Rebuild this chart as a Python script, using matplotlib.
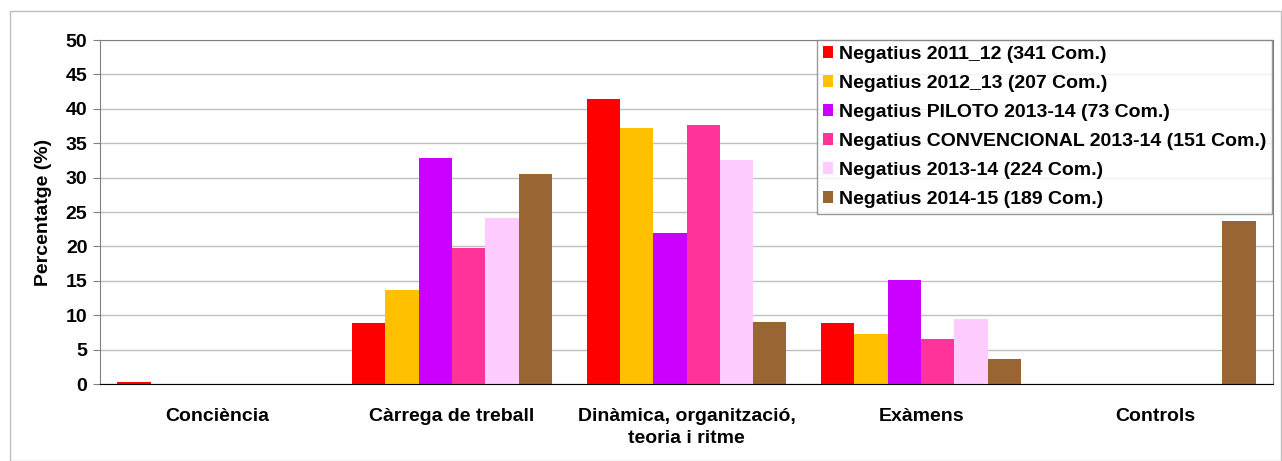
import numpy as np
import matplotlib
matplotlib.use('Agg')
import matplotlib.pyplot as plt
from matplotlib.patches import Rectangle

plt.rcParams['font.family'] = ['Liberation Sans', 'DejaVu Sans']
plt.rcParams['font.weight'] = 'bold'

# Data
categories = ['Conciència', 'Càrrega de treball', 'Dinàmica, organització,\nteoria i ritme',
              'Exàmens', 'Controls']
series_names = ['Negatius 2011_12 (341 Com.)', 'Negatius 2012_13 (207 Com.)',
                'Negatius PILOTO 2013-14 (73 Com.)', 'Negatius CONVENCIONAL 2013-14 (151 Com.)',
                'Negatius 2013-14 (224 Com.)', 'Negatius 2014-15 (189 Com.)']
neg_2011_12 = [0.3, 8.8, 41.4, 8.8, 0]
neg_2012_13 = [0, 13.6, 37.2, 7.3, 0]
neg_piloto = [0, 32.8, 21.9, 15.1, 0]
neg_convencional = [0, 19.8, 37.7, 6.6, 0]
neg_2013_14 = [0, 24.1, 32.6, 9.4, 0]
neg_2014_15 = [0, 30.6, 9.0, 3.7, 23.7]
series = [neg_2011_12, neg_2012_13, neg_piloto, neg_convencional, neg_2013_14, neg_2014_15]
colors = ['#ff0000', '#ffc000', '#cc00ff', '#ff3399', '#ffccff', '#996633']

fig = plt.figure(figsize=(12.82, 4.61), dpi=100)
ax = fig.add_axes([0.078, 0.167, 0.915, 0.746])

x = np.arange(len(categories))
w = 0.142
for i, (vals, c, name) in enumerate(zip(series, colors, series_names)):
    ax.bar(x + (i - 2.5) * w, vals, w, color=c, label=name, zorder=3)

ax.set_xlim(-0.5, len(categories) - 0.5)
ax.set_ylim(0, 50)
ax.set_yticks(range(0, 51, 5))
ax.yaxis.grid(True, color='#c0c0c0', linewidth=1, zorder=0)
ax.set_xticks(x)
ax.set_xticklabels(categories, fontsize=14, fontweight='bold', linespacing=1.45)
ax.tick_params(axis='x', length=0, pad=17)
ax.tick_params(axis='y', labelsize=14, color='#808080', length=5, pad=4)
ax.set_ylabel('Percentatge (%)', fontsize=14, fontweight='bold', labelpad=10)
for s in ['left', 'top', 'right']:
    ax.spines[s].set_color('#808080')
ax.spines['bottom'].set_color('black')
ax.spines['bottom'].set_zorder(4)

leg = ax.legend(loc='upper right', bbox_to_anchor=(0.9995, 1.0), fontsize=14, frameon=True,
                fancybox=False, edgecolor='#808080', handlelength=0.55, handleheight=0.55,
                handletextpad=0.3, labelspacing=0.62, borderpad=0.3, borderaxespad=0.0)
leg.get_frame().set_linewidth(1)

fig.patches.append(Rectangle((10 / 1282, 0), 1 - 11 / 1282, 1 - 11 / 461,
                             transform=fig.transFigure, fill=False,
                             edgecolor='#bfbfbf', linewidth=1))

fig.savefig('out.png', dpi=100)
